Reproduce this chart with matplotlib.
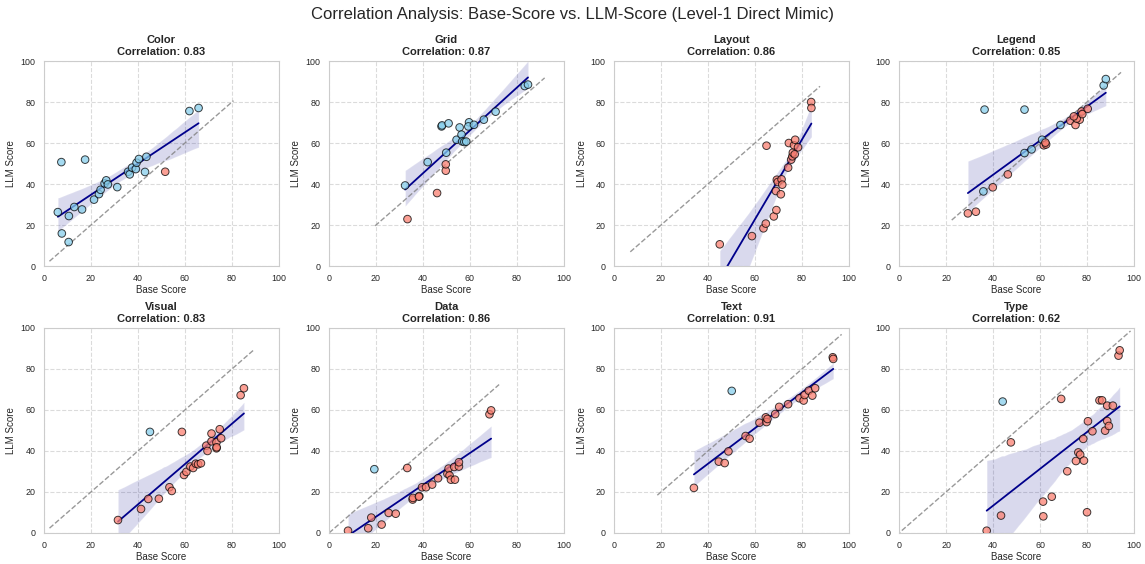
import numpy as np
import matplotlib
matplotlib.use("Agg")
import matplotlib.pyplot as plt
import seaborn as sns

sns.set_style("whitegrid", {"grid.linestyle": "--"})
plt.rcParams['font.family'] = ['Liberation Sans', 'DejaVu Sans']

categories = ["Color", "Grid", "Layout", "Legend", "Visual", "Data", "Text", "Type"]
correlations = [0.83, 0.87, 0.86, 0.85, 0.83, 0.86, 0.91, 0.62]

color_base = [5.9, 7.4, 7.6, 10.5, 10.6, 12.9, 16.2, 17.5, 21.3, 23.4, 24.1, 25.8, 26.5, 27.2, 31.2,
              35.8, 36.5, 37.5, 39.1, 39.4, 40.4, 43.0, 43.6, 61.9, 65.8, 51.6]
color_llm = [26.3, 50.7, 15.9, 11.7, 24.4, 28.8, 27.6, 51.9, 32.4, 35.1, 37.2, 40.3, 41.8, 39.8, 38.5,
             46.0, 44.7, 48.0, 47.3, 50.4, 52.2, 45.9, 53.3, 75.6, 77.1, 46.0]

grid_base = [32.4, 42.0, 47.9, 48.1, 50.9, 49.9, 54.3, 55.6, 56.4, 56.7, 57.6, 58.4, 59.6, 59.3, 61.7,
             65.9, 70.9, 83.3, 84.7, 33.4, 46.0, 49.7, 49.7]
grid_llm = [39.3, 50.7, 68.1, 68.6, 69.6, 55.3, 61.6, 67.6, 64.1, 60.8, 60.5, 60.7, 70.1, 68.1, 68.9,
            71.4, 75.3, 87.8, 88.5, 22.9, 35.6, 46.5, 49.6]

layout_base = [45.0, 58.7, 63.6, 64.6, 64.9, 68.0, 69.1, 68.9, 71.0, 69.3, 69.7, 71.3, 71.6, 74.1, 74.4,
               75.4, 75.9, 76.1, 76.6, 77.1, 78.3, 76.9, 83.9, 84.0]
layout_llm = [10.6, 14.6, 18.4, 20.7, 58.7, 24.2, 27.3, 36.6, 35.0, 42.1, 41.0, 42.3, 39.7, 48.0, 60.0,
              51.9, 53.5, 55.3, 58.9, 61.6, 57.9, 54.5, 80.0, 77.1]

legend_base = [36.4, 53.4, 35.9, 53.4, 56.4, 60.9, 87.1, 88.0, 29.3, 32.7, 39.9, 46.3, 61.6, 62.6, 62.3,
               68.7, 72.9, 75.1, 76.9, 75.6, 77.7, 78.0, 80.3, 74.4]
legend_llm = [76.3, 76.3, 36.4, 55.1, 56.9, 61.6, 88.1, 91.2, 25.7, 26.5, 38.4, 44.7, 58.9, 59.3, 60.2,
              68.8, 70.9, 68.8, 71.4, 71.9, 75.4, 74.1, 76.7, 73.0]

visual_base = [45.1, 31.5, 41.3, 44.4, 48.9, 53.4, 54.4, 58.7, 59.6, 60.6, 62.3, 63.5, 64.6, 65.6, 66.8,
               69.1, 69.6, 71.3, 71.3, 73.4, 73.4, 73.5, 74.8, 75.4, 83.7, 85.1]
visual_llm = [49.3, 6.3, 11.7, 16.6, 16.7, 22.3, 20.5, 49.3, 28.3, 29.8, 32.4, 31.7, 33.8, 33.5, 34.0,
              42.6, 40.0, 48.5, 44.7, 44.2, 41.3, 41.8, 50.6, 46.2, 67.2, 70.6]

data_base = [19.3, 8.1, 16.7, 18.0, 22.4, 25.4, 28.4, 33.3, 35.6, 35.7, 38.4, 38.3, 39.6, 41.3, 43.9,
             46.4, 50.4, 50.9, 51.3, 51.9, 53.6, 53.3, 55.3, 55.3, 68.3, 69.0]
data_llm = [31.1, 1.1, 2.3, 7.5, 4.1, 9.8, 9.4, 31.7, 16.3, 17.1, 18.0, 17.7, 22.3, 22.3, 23.6,
            26.7, 28.9, 31.4, 28.1, 26.0, 26.0, 32.2, 32.4, 34.5, 57.9, 59.8]

text_base = [50.1, 34.0, 44.6, 47.1, 48.7, 56.0, 57.7, 61.9, 64.6, 64.9, 65.3, 68.6, 70.3, 74.1, 78.9,
             80.7, 81.1, 82.9, 84.4, 85.6, 93.1, 93.3]
text_llm = [69.3, 22.0, 34.8, 34.1, 39.8, 47.3, 46.0, 53.8, 56.4, 54.1, 55.6, 58.0, 61.5, 62.8, 65.7,
            64.6, 67.3, 69.4, 67.0, 70.6, 85.7, 84.9]

type_base = [44.1, 37.3, 43.4, 47.6, 61.3, 61.4, 65.0, 69.0, 71.6, 75.3, 76.3, 77.1, 78.7, 78.4, 80.0,
             80.4, 82.3, 85.3, 86.4, 87.7, 88.6, 88.6, 89.3, 91.0, 93.4, 93.9]
type_llm = [64.1, 1.1, 8.5, 44.2, 15.3, 8.1, 17.7, 65.4, 30.1, 35.1, 39.3, 38.2, 35.3, 45.9, 10.1,
            54.5, 49.6, 64.7, 64.7, 49.9, 62.1, 54.6, 52.2, 62.1, 86.5, 89.1]

series = [(color_base, color_llm), (grid_base, grid_llm), (layout_base, layout_llm),
          (legend_base, legend_llm), (visual_base, visual_llm), (data_base, data_llm),
          (text_base, text_llm), (type_base, type_llm)]

ticks = [0, 20, 40, 60, 80, 100]
text_color = "#262626"

fig, axes = plt.subplots(2, 4, figsize=(11.45, 5.64), dpi=100)
fig.subplots_adjust(left=0.0384, right=0.9904, top=0.8918, bottom=0.055, wspace=0.213, hspace=0.302)

for ax, name, corr, (xb, yl) in zip(axes.flat, categories, correlations, series):
    xb = np.array(xb)
    yl = np.array(yl)
    cols = np.where(yl > xb, "skyblue", "salmon")
    ax.scatter(xb, yl, c=cols, s=30, alpha=0.75, edgecolors="black", linewidths=0.7, zorder=3)
    lo = min(xb.min(), yl.min())
    hi = max(xb.max(), yl.max())
    pad = 0.05 * (hi - lo)
    ax.plot([lo - pad, hi + pad], [lo - pad, hi + pad], "--", color="gray", alpha=0.8, lw=1, zorder=2)
    sns.regplot(x=xb, y=yl, ax=ax, scatter=False, color="darkblue", seed=0,
                line_kws={"linewidth": 1.3})
    ax.set_xlim(0, 100)
    ax.set_ylim(0, 100)
    ax.set_xticks(ticks)
    ax.set_yticks(ticks)
    ax.tick_params(labelsize=6.4, pad=2.5, labelcolor=text_color)
    ax.set_xlabel("Base Score", fontsize=7, labelpad=1.5, color=text_color)
    ax.set_ylabel("LLM Score", fontsize=7, labelpad=3, color=text_color)
    ax.set_title(f"{name}\nCorrelation: {corr:.2f}", fontsize=8, fontweight="bold", pad=4,
                 linespacing=1.3, color=text_color)
    ax.grid(True, linestyle="--", alpha=0.7)
    for sp in ax.spines.values():
        sp.set_color("#cccccc")

fig.suptitle("Correlation Analysis: Base-Score vs. LLM-Score (Level-1 Direct Mimic)", fontsize=12,
             y=0.988, color=text_color)
fig.savefig("out.png", dpi=100)
